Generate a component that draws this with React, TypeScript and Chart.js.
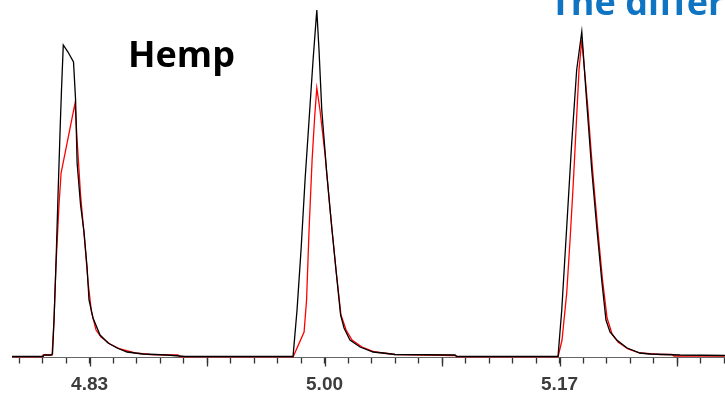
import React, { useEffect, useRef } from "react";
import { Chart, registerables } from "chart.js";

Chart.register(...registerables);

// Retention time (min) and relative abundance (%) — black trace
const blackTime = [4.7739, 4.7964, 4.7971, 4.8022, 4.8032, 4.8043, 4.8058, 4.8072, 4.8087, 4.8097, 4.811, 4.8144, 4.8184, 4.8199, 4.821, 4.8235, 4.826, 4.8282, 4.8296, 4.8325, 4.8376, 4.8434, 4.8499, 4.8571, 4.8687, 4.8861, 4.8991,
  4.975, 4.9772, 4.9801, 4.983, 4.9859, 4.9888, 4.9917, 4.9944, 4.996, 4.998, 5.0016, 5.0052, 5.0088, 5.0116, 5.0141, 5.0184, 5.0257, 5.0351, 5.0423, 5.051, 5.0944, 5.0958,
  5.1689, 5.1716, 5.1752, 5.1788, 5.1824, 5.1861, 5.1897, 5.1933, 5.1969, 5.2005, 5.2036, 5.2065, 5.2114, 5.2189, 5.2282, 5.2355, 5.2572, 5.2897];
const blackAbund = [0.28, 0.28, 0.7, 0.7, 0.98, 10.49, 27.27, 45.45, 63.63, 74.82, 87.41, 85.45, 82.65, 72.02, 54.4, 42.65, 35.1, 25.31, 16.08, 11.05, 6.29, 4.06, 2.66, 1.54, 0.98, 0.7, 0.28,
  0.28, 0.28, 13.29, 30.07, 49.65, 66.43, 83.21, 97.2, 86.01, 69.23, 51.6, 36.5, 22.52, 11.89, 8.25, 4.89, 2.94, 1.54, 1.26, 0.84, 0.7, 0.28,
  0.28, 13.29, 36.5, 60.0, 80.41, 91.13, 71.18, 52.44, 36.5, 21.68, 10.49, 7.13, 4.89, 2.66, 1.26, 0.98, 0.7, 0.56];

// Red trace
const redTime = [4.7739, 4.7956, 4.7964, 4.8029, 4.8043, 4.8058, 4.8079, 4.8094, 4.8123, 4.8159, 4.8195, 4.821, 4.8235, 4.8264, 4.8289, 4.8314, 4.8347, 4.8383, 4.8448, 4.8521, 4.8629, 4.8738, 4.8853, 4.894, 4.8955,
  4.9772, 4.9852, 4.987, 4.9888, 4.991, 4.9928, 4.9944, 4.9967, 5.0004, 5.004, 5.0083, 5.0119, 5.0156, 5.0199, 5.0271, 5.0365, 5.051, 5.0944, 5.0958,
  5.1689, 5.1718, 5.1752, 5.1776, 5.1798, 5.1819, 5.1841, 5.1861, 5.1902, 5.1939, 5.1975, 5.2011, 5.2044, 5.208, 5.2123, 5.2195, 5.2282, 5.2427, 5.2514, 5.2528, 5.2897];
const redAbund = [0.14, 0.14, 0.7, 0.7, 10.49, 26.43, 42.65, 51.6, 57.2, 64.19, 71.18, 60.83, 45.45, 32.86, 21.12, 12.73, 7.69, 5.73, 3.78, 2.38, 1.26, 0.84, 0.7, 0.7, 0.14,
  0.14, 7.13, 16.08, 35.66, 55.24, 66.99, 75.38, 69.23, 56.64, 41.26, 24.47, 11.89, 7.69, 4.89, 2.94, 1.54, 0.84, 0.56, 0.14,
  0.14, 4.89, 18.04, 32.86, 47.69, 63.63, 80.41, 88.8, 71.18, 52.44, 36.5, 21.68, 11.05, 6.57, 4.34, 2.38, 1.26, 0.84, 0.84, 0.42, 0.42];

// Axis
const xMin = 4.7739;
const xMax = 5.2897;
const majorTicks = [4.83, 5.0, 5.17];
const majorLabels = ["4.83", "5.00", "5.17"];
const midTicks = [4.915, 5.085, 5.255];
const minorStep = 0.017;
const firstMinor = 4.779;
const minorCount = 31;

const longTickPlugin = {
  id: "longTicks",
  afterDraw(chart: any) {
    const sc = chart.scales.x;
    const ctx = chart.ctx;
    const y0 = chart.chartArea.bottom;
    ctx.save();
    ctx.strokeStyle = "#333";
    ctx.lineWidth = 1.3;
    [...majorTicks, ...midTicks].forEach((v) => {
      const px = Math.round(sc.getPixelForValue(v)) + 0.5;
      ctx.beginPath();
      ctx.moveTo(px, y0);
      ctx.lineTo(px, y0 + 9);
      ctx.stroke();
    });
    ctx.restore();
  },
};

export default function App() {
  const ref = useRef<HTMLCanvasElement | null>(null);
  useEffect(() => {
    if (!ref.current) return;
    const black = blackTime.map((t, i) => ({ x: t, y: blackAbund[i] }));
    const red = redTime.map((t, i) => ({ x: t, y: redAbund[i] }));
    const chart = new Chart(ref.current, {
      type: "line",
      data: {
        datasets: [
          { label: "Black", data: black, borderColor: "#000", borderWidth: 1.3, pointRadius: 0, pointHoverRadius: 0, tension: 0, fill: false },
          { label: "Red", data: red, borderColor: "#ff0000", borderWidth: 1.3, pointRadius: 0, pointHoverRadius: 0, tension: 0, fill: false },
        ],
      },
      options: {
        animation: false,
        responsive: false,
        devicePixelRatio: 1,
        layout: { autoPadding: false, padding: { left: 12, right: 0, top: 0, bottom: 0 } },
        plugins: { legend: { display: false }, tooltip: { enabled: false }, title: { display: false } },
        scales: {
          x: {
            type: "linear",
            min: xMin,
            max: xMax,
            afterBuildTicks: (scale: any) => {
              const arr = [];
              for (let i = 0; i < minorCount; i++) {
                arr.push({ value: Math.round((firstMinor + i * minorStep) * 1000) / 1000 });
              }
              scale.ticks = arr;
            },
            afterFit: (scale: any) => {
              scale.height = 35.5;
              scale.paddingLeft = 0;
              scale.paddingRight = 0;
            },
            grid: { display: true, drawOnChartArea: false, drawTicks: true, tickLength: 6, tickColor: "#333", tickWidth: 1.3 },
            border: { display: true, color: "#666", width: 1 },
            ticks: {
              autoSkip: false,
              maxRotation: 0,
              padding: 10,
              color: "#3c3c3c",
              font: { family: "Liberation Sans", size: 19, weight: "bold" },
              callback: (value: any) => {
                const idx = majorTicks.findIndex((m) => Math.abs(m - Number(value)) < 1e-6);
                return idx >= 0 ? majorLabels[idx] : "";
              },
            },
          },
          y: { display: false, min: 0, max: 100 },
        },
      },
      plugins: [longTickPlugin],
    });
    return () => chart.destroy();
  }, []);

  return (
    <div style={{ position: "absolute", left: 0, top: 0, width: 725, height: 393, overflow: "hidden", background: "#fff" }}>
      <canvas ref={ref} width={725} height={393} style={{ position: "absolute", left: 0, top: 0 }} />
      <div style={{ position: "absolute", left: 128, top: 36, fontFamily: "'Open Sans', sans-serif", fontWeight: 700, fontSize: 36, lineHeight: "36px", color: "#000", whiteSpace: "nowrap" }}>
        Hemp
      </div>
      <div style={{ position: "absolute", left: 550, top: -16, fontFamily: "'Open Sans', sans-serif", fontWeight: 700, fontSize: 36, lineHeight: "36px", color: "#0f75c3", whiteSpace: "nowrap" }}>
        The difference
      </div>
    </div>
  );
}
